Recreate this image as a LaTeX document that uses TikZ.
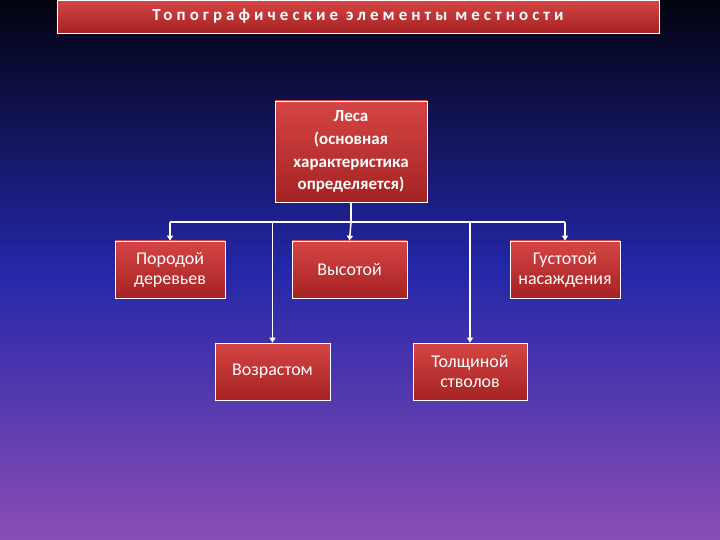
\documentclass[tikz,border=0pt]{standalone}
\usepackage{fontspec}
\setmainfont{Carlito}
\newfontfamily\titlefont[LetterSpace=24]{Carlito}
\usetikzlibrary{arrows.meta,shadows}
\definecolor{bgtop}{HTML}{02030F}
\definecolor{bgmid}{HTML}{2427A8}
\definecolor{bgbot}{HTML}{8A4DB5}
\definecolor{boxtop}{HTML}{D64545}
\definecolor{boxbot}{HTML}{A52222}
\tikzset{
  box/.style={draw=white, line width=0.8pt, top color=boxtop, bottom color=boxbot,
    text=white, align=center, inner sep=2pt, font=\fontsize{18}{20}\selectfont},
  conn/.style={draw=white, line width=1.5pt, -{Triangle[length=5pt,width=6pt]}},
  bus/.style={draw=white, line width=1.5pt}
}
\begin{document}
\begin{tikzpicture}[x=1bp,y=-1bp]
\useasboundingbox (0,0) rectangle (720,540);
\shade[top color=bgtop, bottom color=bgbot, middle color=bgmid] (0,0) rectangle (720,540);
\node[box, minimum width=602bp, minimum height=33bp, font=\titlefont\bfseries\fontsize{17}{19}\selectfont] (title) at (358,16.5) {Топографические элементы местности};
\node[box, minimum width=152bp, minimum height=101bp, font=\bfseries\fontsize{17}{23}\selectfont] (les) at (351,151.5) {Леса\\(основная\\характеристика\\определяется)};
\node[box, minimum width=110bp, minimum height=57bp] (porod) at (170,269.5) {Породой\\деревьев};
\node[box, minimum width=115bp, minimum height=57bp] (vys) at (349.5,269.5) {Высотой};
\node[box, minimum width=110bp, minimum height=57bp] (gust) at (565,269.5) {Густотой\\насаждения};
\node[box, minimum width=115bp, minimum height=57bp] (voz) at (272.5,371.5) {Возрастом};
\node[box, minimum width=114bp, minimum height=57bp] (tol) at (470,371.5) {Толщиной\\стволов};
\coordinate (busL) at (porod.north |- 0,222);
\coordinate (busR) at (gust.north |- 0,222);
\draw[bus] (les.south) -- (les.south |- busL);
\draw[bus] (busL) -- (busR);
\draw[conn] (busL) -- (porod.north);
\draw[conn] (les.south |- busL) -- (vys.north);
\draw[conn] (busR) -- (gust.north);
\draw[conn] (voz.north |- busL) -- (voz.north);
\draw[conn] (tol.north |- busL) -- (tol.north);
\end{tikzpicture}
\end{document}
